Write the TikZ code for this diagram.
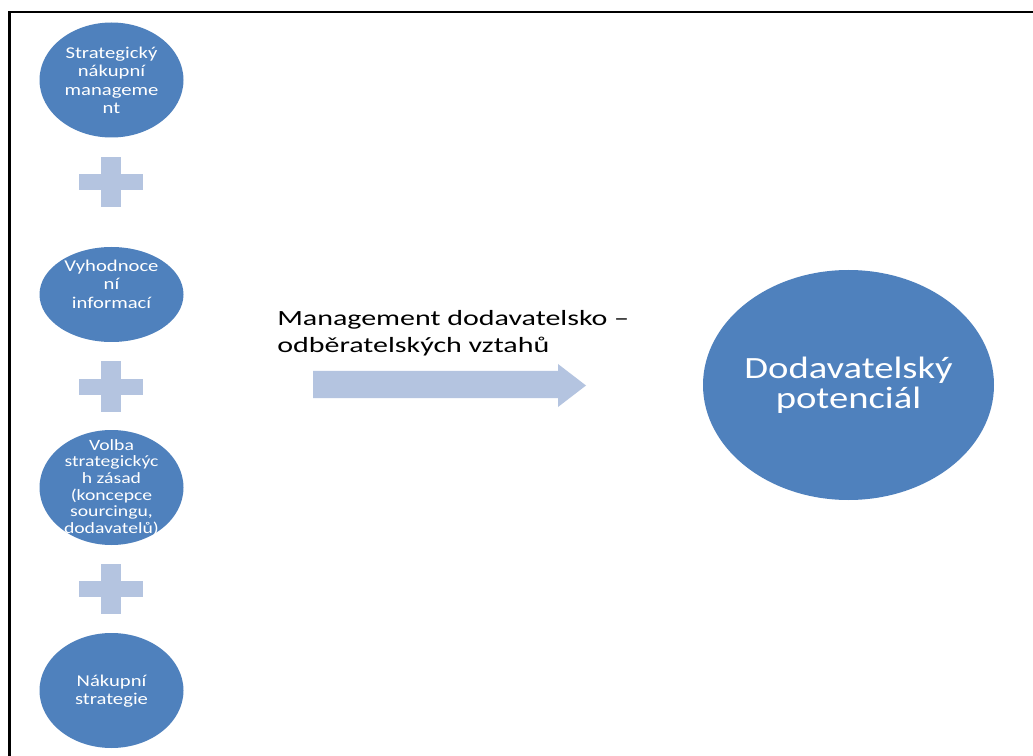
\documentclass[tikz,border=0pt]{standalone}
\usepackage{fontspec}
\usetikzlibrary{shapes.geometric}
\setmainfont{Carlito}
\newfontfamily\widefont[FakeStretch=1.25]{Carlito}
\newfontfamily\widerfont[FakeStretch=1.38]{Carlito}
\definecolor{discblue}{RGB}{79,129,189}
\definecolor{paleblue}{RGB}{180,196,224}
\tikzset{
  disc/.style={ellipse, fill=discblue, draw=none, inner sep=0pt},
  disctext/.style={text=white, align=center, inner sep=0pt, font=\widefont\fontsize{12.4pt}{13.9pt}\selectfont},
  plussign/.pic={
    \fill[paleblue] (-32,-8) rectangle (32,8);
    \fill[paleblue] (-10,-25) rectangle (10,25);
  },
}
\begin{document}
\begin{tikzpicture}[x=0.75pt,y=-0.75pt]
\useasboundingbox (0,0) rectangle (1033,756);
\fill[white] (0,0) rectangle (1033,756);
% frame: top and left rules
\draw[line width=1.6pt] (9.5,756) -- (9.5,12) -- (1033,12);

% column of discs
\node[disc, minimum width=144*0.75pt, minimum height=115*0.75pt] (e1) at (111.5,80) {};
\node[disc, minimum width=144*0.75pt, minimum height=95*0.75pt] (e2) at (111.5,294.5) {};
\node[disc, minimum width=144*0.75pt, minimum height=115*0.75pt] (e3) at (111.5,487.5) {};
\node[disc, minimum width=144*0.75pt, minimum height=115*0.75pt] (e4) at (111.5,690.5) {};

\node[disctext] (t1) at (111.5,80.5) {Strategický\\nákupní\\manageme\\nt};
\node[disctext] (t2) at (111.5,284) {Vyhodnoce\\ní\\informací};
\node[disctext, font=\widefont\fontsize{11.8pt}{12.5pt}\selectfont] (t3) at (111.5,487.5)
  {Volba\\strategickýc\\h zásad\\(koncepce\\sourcingu,\\dodavatelů)};
\node[disctext] (t4) at (111.5,691) {Nákupní\\strategie};

% plus signs between the discs
\pic at (111,182) {plussign};
\pic at (111,386.5) {plussign};
\pic at (111,589) {plussign};

% block arrow
\coordinate (aL) at (313,385);
\coordinate (aT) at (586,385.5);
\fill[paleblue] (313,371) -- (558,371) -- (558,364) -- (aT) -- (558,407) -- (558,398) -- (313,398) -- cycle;

\node[anchor=west, align=left, inner sep=0pt, font=\widerfont\fontsize{16.3pt}{20.3pt}\selectfont] (lab) at (277,333)
  {Management dodavatelsko –\\odběratelských vztahů};

% target disc
\node[disc, minimum width=291*0.75pt, minimum height=230*0.75pt] (big) at (848.5,385) {};
\node[text=white, align=center, inner sep=0pt, font=\widefont\fontsize{23.2pt}{22.5pt}\selectfont] (bigt) at (848.5,385)
  {Dodavatelský\\potenciál};
\end{tikzpicture}
\end{document}
